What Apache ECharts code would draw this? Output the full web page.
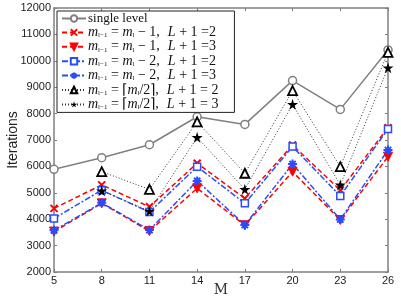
<!DOCTYPE html>
<html><head><meta charset="utf-8">
<script src="https://cdn.jsdelivr.net/npm/echarts@6/dist/echarts.min.js"></script>
<style>html,body{margin:0;padding:0;background:#fff}#c{width:401px;height:300px}</style>
</head><body><div id="c"></div>
<script>
const categories = ['5','8','11','14','17','20','23','26'];
const yTicks = [2000,12000,1000];
const singleLevel = [5890,6330,6820,7880,7590,9250,8160,10410];
const m1L2 = [4410,5300,4470,6120,4790,6810,5100,7470];
const m1L3 = [3530,4600,3550,5170,3770,5800,3970,6370];
const m2L2 = [4030,5100,4270,5990,4600,6750,4880,7420];
const m2L3 = [3580,4620,3590,5450,3780,6090,3990,6620];
const halfL2 = [null,5800,5130,7690,5740,8870,5990,10320];
const halfL3 = [null,5080,4310,7100,5130,8350,5300,9740];
const names = ['single level','m1L2','m1L3','m2L2','m2L3','halfL2','halfL3'];

const legendRich = {
  '_single level': '{n|single level}',
  m1L2: '{i|m}{s|l−1}{t| = }{i|m}{s|l}{t| − 1,}{g| }{i|L}{t| + 1 =2}',
  m1L3: '{i|m}{s|l−1}{t| = }{i|m}{s|l}{t| − 1,}{g| }{i|L}{t| + 1 =3}',
  m2L2: '{i|m}{s|l−1}{t| = }{i|m}{s|l}{t| − 2,}{g| }{i|L}{t| + 1 =2}',
  m2L3: '{i|m}{s|l−1}{t| = }{i|m}{s|l}{t| − 2,}{g| }{i|L}{t| + 1 =3}',
  halfL2: '{i|m}{s|l−1}{t| = ⌈}{i|m}{s|l}{t|/2⌉,}{g| }{i|L}{t| + 1 = 2}',
  halfL3: '{i|m}{s|l−1}{t| = ⌈}{i|m}{s|l}{t|/2⌉,}{g| }{i|L}{t| + 1 = 3}'
};

const xPath = 'path://M0,0 L10,10 M10,0 L0,10';
const astPath = 'path://M5,0 L5,10 M0,5 L10,5 M1.5,1.5 L8.5,8.5 M8.5,1.5 L1.5,8.5';
const starPath = 'path://M50,0 L61,35 L98,35 L68,57 L79,91 L50,70 L21,91 L32,57 L2,35 L39,35 Z';

function mk(name, data, color, ltype, lw, symbol, size, itemStyle, rot) {
  return {
    name, type: 'line', data, symbol, symbolSize: size, symbolRotate: rot || 0,
    showAllSymbol: true, connectNulls: false, animation: false,
    lineStyle: { color, width: lw, type: ltype },
    itemStyle: itemStyle, emphasis: { disabled: true }
  };
}

const serif = 'Liberation Serif';
const chart = echarts.init(document.getElementById('c'));
chart.setOption({
  animation: false,
  grid: { left: 54, top: 8, width: 334, height: 264, outerBoundsMode: 'none' },
  xAxis: [{
    type: 'category', data: categories, boundaryGap: false,
    name: 'M', nameLocation: 'middle', nameGap: 11, nameMoveOverlap: false,
    nameTextStyle: { fontFamily: 'DejaVu Serif', fontSize: 14, color: '#333' },
    axisLine: { lineStyle: { color: '#808080', width: 1.5 } },
    axisTick: { inside: true, length: 3, lineStyle: { color: '#808080' } },
    axisLabel: { fontFamily: 'Liberation Sans', fontSize: 11, color: '#222', margin: 3 },
    splitLine: { show: false }
  }, {
    type: 'category', data: categories, boundaryGap: false, position: 'top',
    axisLine: { lineStyle: { color: '#808080', width: 1.5 } },
    axisTick: { inside: true, length: 3, lineStyle: { color: '#808080' } },
    axisLabel: { show: false }, splitLine: { show: false }
  }],
  yAxis: [{
    type: 'value', min: yTicks[0], max: yTicks[1], interval: yTicks[2],
    name: 'Iterations', nameLocation: 'middle', nameGap: 34, nameMoveOverlap: false,
    nameTextStyle: { fontFamily: 'Liberation Sans', fontSize: 14, color: '#222' },
    axisLine: { show: true, lineStyle: { color: '#808080', width: 1.5 } },
    axisTick: { show: true, inside: true, length: 3, lineStyle: { color: '#808080' } },
    axisLabel: { fontFamily: 'Liberation Sans', fontSize: 11, color: '#222', margin: 3,
                 hideOverlap: false, width: 45, overflow: 'none',
                 formatter: function (v) { return String(v); } },
    splitLine: { show: false }
  }, {
    type: 'value', min: yTicks[0], max: yTicks[1], interval: yTicks[2], position: 'right',
    axisLine: { show: true, lineStyle: { color: '#808080', width: 1.5 } },
    axisTick: { show: true, inside: true, length: 3, lineStyle: { color: '#808080' } },
    axisLabel: { show: false }, splitLine: { show: false }
  }],
  legend: {
    orient: 'vertical', left: 57, top: 11,
    data: names,
    backgroundColor: '#fff', borderColor: '#222', borderWidth: 1,
    padding: [1, 16, 1, 4], itemGap: 0.4, itemWidth: 24, itemHeight: 8,
    formatter: function (n) { return legendRich[n === 'single level' ? '_single level' : n]; },
    textStyle: {
      fontFamily: serif, fontSize: 14, color: '#111', padding: [0, 0, 0, -3],
      rich: {
        n: { fontFamily: serif, fontSize: 13, color: '#111', lineHeight: 14 },
        t: { fontFamily: serif, fontSize: 14, color: '#111', lineHeight: 14 },
        g: { fontFamily: serif, fontSize: 14, color: '#111', lineHeight: 14, width: 8 },
        i: { fontFamily: serif, fontStyle: 'italic', fontSize: 14, color: '#111', lineHeight: 14 },
        s: { fontFamily: serif, fontSize: 7, color: '#111', lineHeight: 14, padding: [6, 0, 0, 0] }
      }
    }
  },
  series: [
    mk('single level', singleLevel, '#808080', 'solid', 1.5, 'circle', 8,
       { color: '#fff', borderColor: '#808080', borderWidth: 1.5 }),
    mk('m1L2', m1L2, '#ff0000', [5, 3], 1.5, xPath, 7,
       { color: 'none', borderColor: '#ff0000', borderWidth: 2 }),
    mk('m1L3', m1L3, '#ff0000', [5, 3], 1.5, 'triangle', 9,
       { color: '#ff0000', borderColor: '#ff0000', borderWidth: 1 }, 180),
    mk('m2L2', m2L2, '#2a4cff', [6, 2, 2, 2], 1.5, 'rect', 7,
       { color: '#fff', borderColor: '#2a4cff', borderWidth: 1.5 }),
    mk('m2L3', m2L3, '#2a4cff', [6, 2, 2, 2], 1.5, astPath, 9,
       { color: 'none', borderColor: '#2a4cff', borderWidth: 2 }),
    mk('halfL2', halfL2, '#333', [1, 2], 1, 'triangle', 9,
       { color: '#fff', borderColor: '#000', borderWidth: 1.8 }),
    mk('halfL3', halfL3, '#333', [1, 2], 1, starPath, 11,
       { color: '#000', borderColor: '#000', borderWidth: 0 })
  ]
});
</script></body></html>
